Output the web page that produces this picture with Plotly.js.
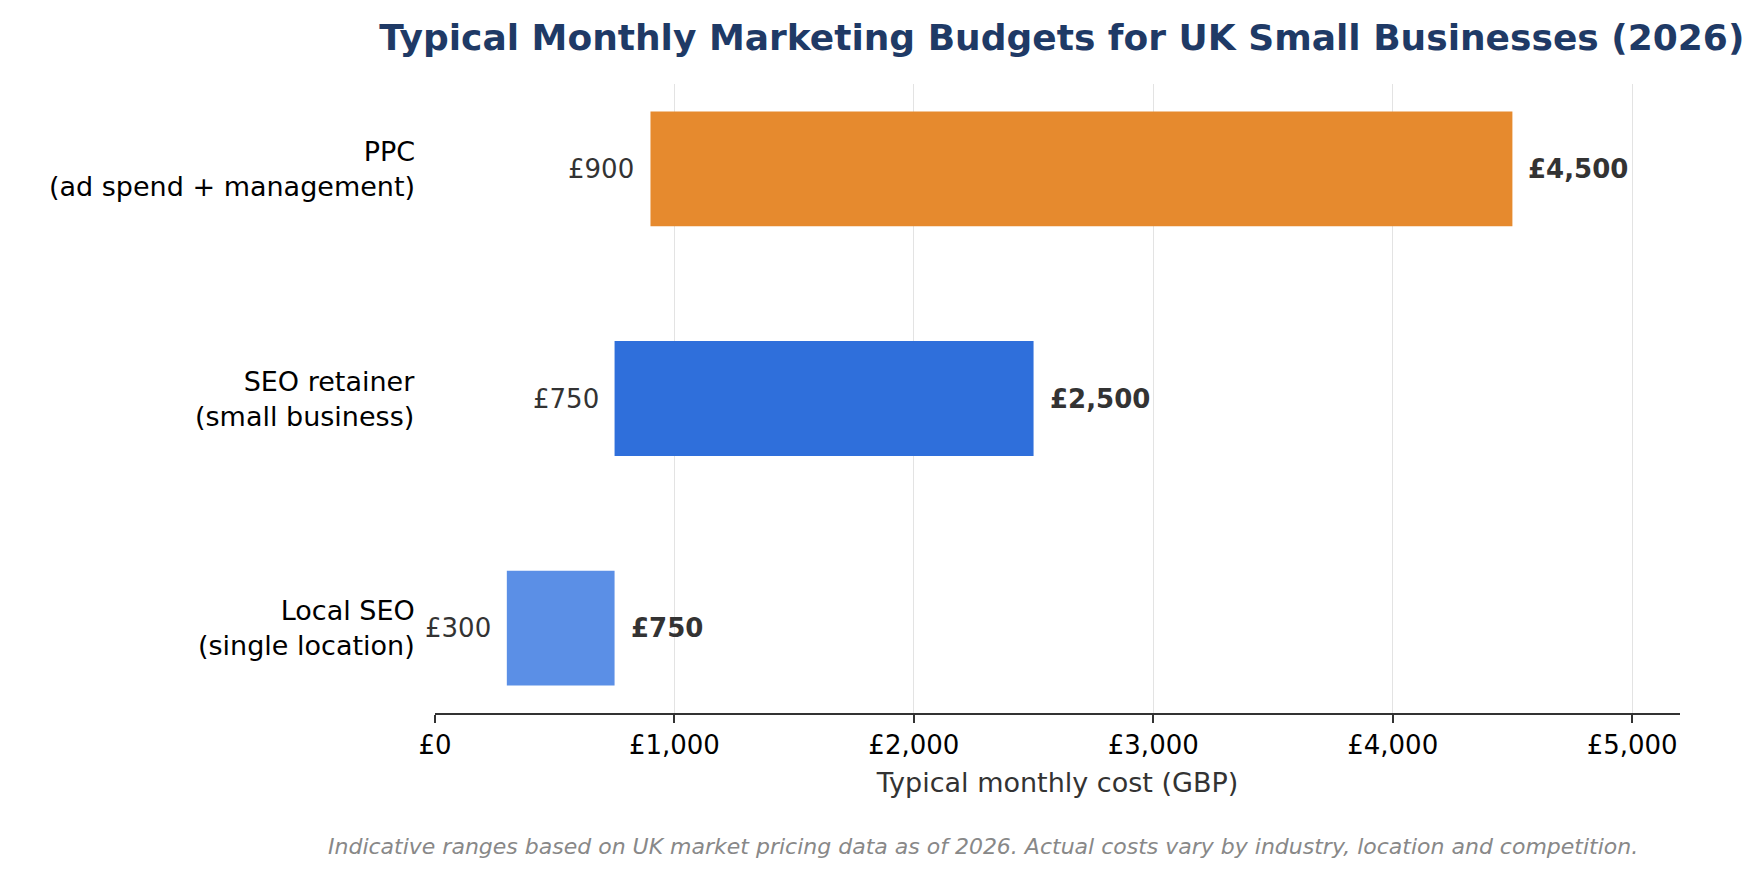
<!DOCTYPE html>
<html>
<head>
<meta charset="utf-8">
<script src="https://cdn.plot.ly/plotly-3.0.1.min.js"></script>
<style>body{margin:0;background:#fff}</style>
</head>
<body>
<div id="chart" style="width:1762px;height:880px"></div>
<script>
const categories = ['Local SEO<br>(single location)', 'SEO retainer<br>(small business)', 'PPC<br>(ad spend + management)'];
const lowValues = [300, 750, 900];
const highValues = [750, 2500, 4500];
const colors = ['#5b8fe6', '#2f6fdb', '#e68a2e'];
const tickVals = [0, 1000, 2000, 3000, 4000, 5000];
const tickText = ['£0', '£1,000', '£2,000', '£3,000', '£4,000', '£5,000'];

const fmt = v => '£' + v.toLocaleString('en-GB');

const trace = {
  type: 'bar',
  orientation: 'h',
  y: categories,
  x: highValues.map((h, i) => h - lowValues[i]),
  base: lowValues,
  width: 0.5,
  marker: {color: colors, line: {width: 0}},
  hoverinfo: 'skip'
};

const annotations = [];
categories.forEach((c, i) => {
  annotations.push({x: lowValues[i], y: c, text: fmt(lowValues[i]), showarrow: false,
    xanchor: 'right', xshift: -14, font: {size: 26, color: '#333'}});
  annotations.push({x: highValues[i], y: c, text: '<b>' + fmt(highValues[i]) + '</b>', showarrow: false,
    xanchor: 'left', xshift: 14, font: {size: 26, color: '#333'}});
  annotations.push({xref: 'paper', x: 0, y: c, text: c, showarrow: false, align: 'right',
    xanchor: 'right', xshift: -18, font: {size: 27, color: '#000'}});
});
annotations.push({xref: 'paper', yref: 'paper', x: 0.44, y: -0.212, xanchor: 'center', yanchor: 'middle',
  showarrow: false, text: '<i>Indicative ranges based on UK market pricing data as of 2026. Actual costs vary by industry, location and competition.</i>',
  font: {size: 22, color: '#888'}});

Plotly.newPlot('chart', [trace], {
  width: 1762, height: 880,
  font: {family: 'DejaVu Sans', size: 26, color: '#000'},
  margin: {l: 435, r: 82, t: 84, b: 167},
  title: {text: '<b>Typical Monthly Marketing Budgets for UK Small Businesses (2026)</b>',
    font: {size: 36, color: '#1f3a66'}, x: 0.99, xanchor: 'right', y: 0.958, yanchor: 'middle'},
  xaxis: {range: [0, 5200], tickvals: tickVals, ticktext: tickText, showgrid: true, gridcolor: '#e3e3e3',
    zeroline: false, showline: true, linecolor: '#333', linewidth: 2, ticks: 'outside', ticklen: 8,
    tickcolor: '#333', tickwidth: 2, tickfont: {size: 26},
    title: {text: 'Typical monthly cost (GBP)', font: {size: 27, color: '#333'}, standoff: 14}},
  yaxis: {range: [-0.37, 2.37], showgrid: false, zeroline: false, showline: false, ticks: '',
    showticklabels: false},
  annotations: annotations,
  showlegend: false,
  plot_bgcolor: '#fff', paper_bgcolor: '#fff'
}, {displayModeBar: false});
</script>
</body>
</html>
